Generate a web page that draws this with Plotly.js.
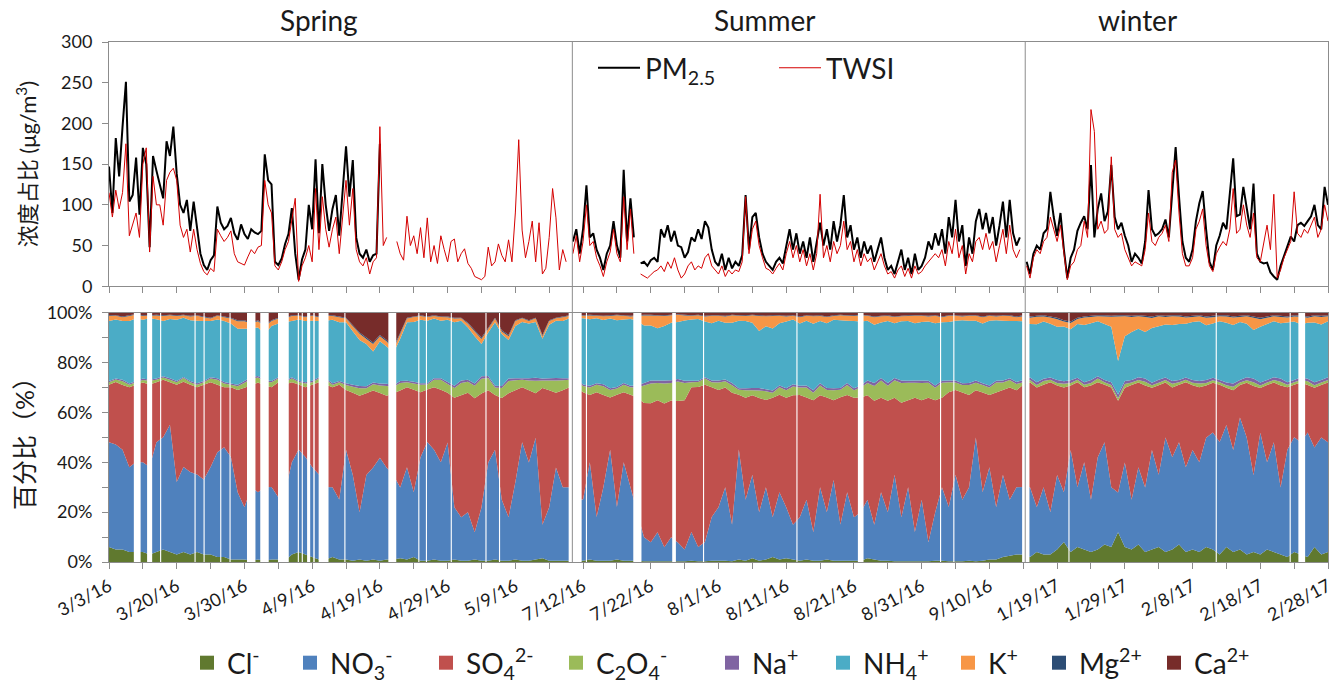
<!DOCTYPE html>
<html>
<head>
<meta charset="utf-8">
<script src="https://cdn.plot.ly/plotly-3.0.1.min.js"></script>
<style>
  html, body { margin: 0; padding: 0; background: #ffffff; }
  #chart { width: 1329px; height: 688px; }
</style>
</head>
<body>
<div id="chart"></div>
<script>
// ---------------- data ----------------
// Hour index along the (gap-compressed) sampling axis; a date label every 240 h.
const tickLabels = ['3/3/16', '3/20/16', '3/30/16', '4/9/16', '4/19/16', '4/29/16', '5/9/16',
  '7/12/16', '7/22/16', '8/1/16', '8/11/16', '8/21/16', '8/31/16', '9/10/16',
  '1/19/17', '1/29/17', '2/8/17', '2/18/17', '2/28/17'];
const seasonNames = ['Spring', 'Summer', 'winter'];

// PM2.5 and total water-soluble ions (µg/m3), one value every 12 h
const hourStep = 12;
const springStart = 0, summerStart = 1644, winterStart = 3252;

const pmSpring = [147, 90, 182, 135, 196, 251, 104, 112, 158, 88,
  170, 150, 48, 160, 142, 125, 108, 178, 160, 196,
  138, 100, 90, 106, 68, 104, 72, 40, 26, 20,
  32, 38, 98, 78, 70, 74, 84, 65, 57, 76,
  64, 58, 70, 66, 64, 68, 162, 130, 125, 30,
  26, 34, 52, 64, 96, 40, 8, 33, 45, 100,
  70, 156, 65, 150, 100, 68, 95, 112, 62, 120,
  172, 110, 155, 60, 40, 35, 45, 30, 38, 40,
  175];
const twsiSpring = [115, 85, 118, 95, 115, 175, 62, 75, 90, 60,
  150, 170, 42, 135, 100, 100, 75, 130, 140, 145,
  130, 75, 60, 70, 42, 70, 45, 28, 18, 14,
  22, 18, 70, 62, 55, 60, 68, 40, 30, 28,
  26, 36, 45, 40, 48, 50, 130, 100, 90, 25,
  20, 30, 45, 55, 80, 108, 6, 25, 35, 50,
  30, 120, 45, 110, 70, 48, 70, 85, 40, 85,
  130, 75, 120, 45, 30, 25, 35, 15, 30, 35,
  196, 50, 60, null, null, 55, 40, 32, 86, 50,
  62, 40, 72, 35, 84, 30, 50, 28, 62, 45,
  30, 55, 58, 30, 40, 46, 28, 22, 12, 10,
  8, 12, 48, 25, 30, 52, 38, 30, 57, 30,
  90, 180, 69, 35, 55, 80, 30, 78, 15, 22,
  60, 120, 84, 20, 45, 30];
const pmSummer = [55, 70, 40, 70, 124, 60, 65, 45, 35, 20,
  40, 50, 80, 50, 35, 143, 55, 108, 60, null,
  28, 30, 25, 32, 35, 30, 70, 60, 75, 55,
  68, 50, 48, 35, 42, 60, 55, 70, 58, 80,
  72, 45, 30, 25, 40, 20, 35, 22, 30, 25,
  38, 112, 45, 85, 90, 60, 40, 30, 25, 20,
  30, 35, 28, 50, 70, 45, 65, 40, 55, 35,
  60, 30, 55, 78, 50, 70, 45, 80, 55, 75,
  112, 60, 75, 45, 60, 35, 55, 40, 50, 30,
  45, 60, 35, 20, 25, 15, 30, 45, 20, 35,
  15, 40, 20, 25, 35, 55, 45, 65, 50, 70,
  40, 85, 60, 106, 55, 75, 25, 60, 40, 80,
  95, 70, 90, 65, 85, 50, 75, 104, 60, 106,
  65, 50, 60];
const twsiSummer = [40, 62, 30, 55, 100, 50, 55, 35, 25, 12,
  30, 42, 70, 40, 30, 110, 45, 95, 40, null,
  15, 12, 10, 14, 18, 20, 25, 18, 30, 22,
  35, 20, 10, 15, 25, 30, 20, 25, 22, 35,
  40, 25, 20, 15, 25, 12, 20, 15, 20, 18,
  30, 110, 40, 70, 80, 50, 35, 22, 20, 15,
  22, 28, 20, 40, 55, 35, 50, 30, 45, 25,
  40, 20, 40, 113, 35, 50, 30, 55, 40, 50,
  80, 45, 55, 30, 45, 25, 40, 30, 35, 20,
  30, 40, 25, 15, 18, 10, 20, 25, 12, 22,
  10, 25, 15, 18, 25, 30, 35, 40, 35, 45,
  25, 55, 40, 70, 35, 50, 15, 40, 30, 55,
  60, 45, 65, 45, 55, 30, 50, 70, 40, 75,
  45, 35, 45];
const pmWinter = [30, 15, 40, 50, 45, 65, 70, 116, 85, 62,
  90, 45, 10, 35, 45, 68, 78, 86, 70, 149,
  60, 95, 114, 80, 92, 149, 85, 70, 78, 62,
  50, 30, 40, 35, 28, 55, 118, 70, 62, 65,
  70, 82, 60, 120, 171, 110, 55, 35, 30, 45,
  80, 102, 117, 70, 30, 20, 50, 62, 78, 70,
  110, 157, 86, 88, 122, 95, 70, 126, 40, 30,
  28, 29, 17, 12, 8, 25, 37, 49, 61, 55,
  75, 78, 74, 80, 86, 100, 75, 70, 122, 100];
const twsiWinter = [25, 10, 35, 45, 40, 55, 60, 85, 70, 55,
  75, 40, 8, 25, 30, 45, 50, 80, 60, 217,
  190, 70, 80, 65, 70, 159, 70, 60, 65, 45,
  35, 25, 30, 28, 25, 45, 90, 55, 50, 60,
  65, 75, 55, 140, 155, 90, 40, 25, 25, 35,
  70, 80, 95, 50, 25, 18, 40, 48, 55, 50,
  70, 120, 65, 70, 100, 75, 60, 90, 35, 30,
  55, 75, 45, 113, 10, 20, 35, 45, 55, 116,
  65, 60, 70, 65, 75, 85, 60, 70, 100, 80];

// Ion shares (%), one value every 24 h
const compStep = 24;
const cl = [6, 5, 5, 4, 4, 4, 3, 4, 5, 4,
  3, 4, 3, 4, 3, 3, 2, 2, 1, 1,
  1, 0.5, 1, 0.5, 1, 1, 0.5, 3, 4, 3,
  2, 1, 1, 2, 1, 1, 0.5, 1, 0.5, 1,
  0.5, 1, 1, 1.5, 1, 2, 0.5, 0.5, 1, 0.5,
  0.5, 1, 0.5, 0.5, 1, 0.5, 0.5, 1, 0.5, 0.5,
  1, 0.5, 0.5, 1, 1.5, 0.5, 0.5, 0.5, 0.5, 0.5,
  0.5, 1, 0.5, 0.5, 0.5, 1, 0.5, 0.5, 0.5, 0.3,
  0.3, 0.3, 0.3, 0.3, 0.3, 0.3, 0.5, 0.3, 0.3, 0.5,
  0.5, 0.5, 0.3, 1, 0.5, 1.5, 0.5, 1, 2, 1,
  1.5, 1, 0.5, 1, 0.5, 0.5, 1, 0.5, 0.5, 0.5,
  0.5, 0.5, 1.5, 1, 0.5, 0.5, 0.3, 0.3, 0.3, 0.3,
  0.3, 0.3, 0.5, 0.5, 0.3, 0.3, 0.3, 0.5, 0.3, 0.5,
  1, 1, 2, 2.5, 3, 3, 2, 4, 3, 3,
  5, 8, 4, 6, 5, 4, 5, 7, 6, 12,
  6, 5, 7, 4, 5, 6, 4, 5, 7, 4,
  5, 4, 6, 5, 3, 6, 4, 5, 3, 4,
  3, 5, 4, 3, 2, 4, 3, 2, 6, 3, 4];
const no3 = [42, 42, 40, 34, 36, 36, 35, 44, 45, 51,
  29, 34, 33, 31, 30, 35, 42, 44, 41, 27,
  21, 29.5, 27, 29.5, 29, 25, 27.5, 37, 41, 39,
  36, 34, 29, 28, 24, 44, 34.5, 19, 34.5, 37,
  41.5, 37, 34, 28.5, 37, 26, 41.5, 47.5, 44, 39.5,
  47.5, 21, 17.5, 19.5, 11, 21.5, 39.5, 44, 24.5, 17.5,
  31, 47.5, 39.5, 49, 13.5, 21.5, 37.5, 29.5, 29.5, 24.5,
  24.5, 39, 17.5, 29.5, 44.5, 21, 39.5, 29.5, 19.5, 9.7,
  7.7, 11.7, 5.7, 9.7, 7.7, 4.7, 11.5, 5.7, 7.7, 17.5,
  21.5, 29.5, 14.7, 44, 24.5, 33.5, 19.5, 29, 16, 27,
  20.5, 14, 17.5, 24, 11.5, 29.5, 19, 32.5, 14.5, 27.5,
  17.5, 19.5, 23.5, 14, 27.5, 19.5, 34.7, 17.7, 29.7, 11.7,
  24.7, 7.7, 19.5, 29.5, 21.7, 34.7, 24.7, 29.5, 49.7, 27.5,
  37, 21, 33, 22.5, 27, 27, 28, 18, 27, 17,
  30, 20, 41, 24, 35, 21, 37, 41, 24, 16,
  34, 20, 31, 26, 40, 29, 46, 37, 41, 34,
  40, 36, 44, 47, 45, 49, 41, 53, 47, 31,
  49, 35, 44, 27, 43, 46, 45, 50, 40, 47, 44];
const so4 = [23, 25, 26, 32, 31, 32, 33, 24, 23, 17,
  39, 34, 35, 35, 38, 34, 27, 24, 28, 41,
  48, 41, 44, 41, 40, 46, 43, 32, 26, 28,
  33, 37, 41, 40, 46, 24, 33, 47, 33, 31,
  26, 29, 33, 39, 32, 41, 26, 21, 25, 29,
  20, 44, 49, 48, 54, 46, 29, 22, 41, 50,
  37, 22, 29, 18, 55, 47, 30, 39, 40, 45,
  43, 27, 50, 37, 21, 45, 28, 37, 46, 54,
  56, 53, 58, 55, 58, 60, 58, 64, 63, 52,
  47, 40, 53, 22, 41, 32, 46, 35, 48, 39,
  44, 52, 49, 41, 53, 37, 46, 32, 51, 39,
  48, 46, 42, 50, 38, 45, 31, 46, 35, 54,
  40, 58, 45, 36, 46, 34, 43, 37, 19, 40,
  29, 46, 34, 45, 39, 41, 42, 48, 41, 52,
  36, 42, 26, 42, 30, 46, 30, 23, 40, 37,
  30, 46, 34, 41, 25, 36, 22, 28, 23, 34,
  26, 30, 21, 20, 23, 15, 24, 13, 22, 36,
  18, 31, 24, 41, 25, 21, 24, 19, 24, 21, 24];
const c2o4 = [1, 1, 1.5, 1, 1, 1, 1.5, 1, 1, 1,
  1, 1.5, 1, 1, 1, 1.5, 2, 1.5, 1, 1.5,
  2, 2.5, 2, 1.5, 2, 1.5, 1, 1.5, 1, 1.5,
  1, 1.5, 2, 1, 1, 2, 2.5, 3, 2, 2.5,
  3, 4, 2.5, 3, 2, 2.5, 3, 2, 3, 4,
  3.5, 4, 5, 4.5, 5, 6, 5, 3, 4, 5,
  4, 3, 4, 5, 3, 4, 5, 4, 3, 3,
  2.5, 3, 3, 3.5, 3, 2.5, 3, 3, 4, 7,
  8, 7, 8, 7, 8, 7, 2, 2, 2.5, 2,
  3, 2.5, 3, 2, 3, 2, 3, 3.5, 2, 3,
  3, 3.5, 3, 4, 3, 4, 3, 4, 3, 4,
  3, 4, 5, 6, 7, 6, 7, 8, 7, 6,
  7, 6, 5, 6, 4, 3, 3, 4, 3, 3,
  3, 4, 3, 3, 2.5, 1, 1, 1, 1.5, 1,
  1, 1.5, 1, 1, 1, 1, 1.5, 1, 1, 1,
  1.5, 1, 1, 1.5, 1, 1, 1, 1.5, 1, 1,
  1, 1.5, 1, 1, 1, 1, 1.5, 1, 1, 1.5,
  1, 1, 1, 1.5, 1, 1, 1, 1.5, 1, 1, 1];
const na = [0.5, 0.4, 0.6, 0.5, 0.5, 0.6, 0.4, 0.5, 0.5, 0.6,
  0.5, 0.4, 0.5, 0.6, 0.5, 0.5, 0.7, 0.6, 0.5, 0.6,
  0.7, 0.8, 0.6, 0.7, 0.5, 0.6, 0.5, 0.6, 0.5, 0.5,
  0.6, 0.5, 0.5, 0.6, 0.5, 0.7, 0.8, 0.9, 0.8, 0.7,
  0.8, 0.9, 0.7, 0.8, 0.6, 0.7, 0.6, 0.5, 0.6, 0.7,
  0.8, 0.9, 1.0, 0.8, 0.9, 1.0, 0.8, 0.7, 0.8, 1.0,
  0.8, 0.7, 0.9, 1.2, 0.8, 0.9, 1.0, 0.8, 0.7, 0.6,
  0.6, 0.7, 0.6, 0.8, 0.7, 0.6, 0.7, 0.6, 0.8, 1.0,
  1.2, 1.0, 1.3, 1.1, 1.0, 0.9, 0.6, 0.5, 0.6, 0.7,
  0.8, 0.7, 0.9, 0.6, 0.8, 0.9, 1.0, 0.8, 0.9, 0.7,
  0.8, 0.9, 0.7, 0.8, 1.0, 0.9, 0.8, 0.9, 0.7, 0.8,
  0.9, 0.8, 1.0, 1.2, 1.0, 1.1, 0.9, 1.0, 0.8, 0.9,
  1.0, 0.8, 0.9, 0.8, 0.7, 0.8, 0.7, 0.8, 0.9, 0.7,
  0.8, 0.7, 0.8, 0.7, 0.8, 0.9, 1.0, 1.1, 0.9, 1.0,
  1.2, 1.0, 1.1, 0.9, 1.0, 1.2, 1.0, 0.9, 1.1, 1.5,
  1.2, 1.0, 1.1, 1.3, 1.0, 1.2, 1.0, 1.1, 0.9, 1.0,
  1.1, 1.0, 1.2, 1.0, 0.9, 1.1, 1.3, 1.0, 1.2, 1.5,
  1.2, 1.0, 1.1, 1.3, 1.0, 0.9, 1.1, 1.0, 1.2, 1.0, 1.1];
const nh4 = [24.1, 23.6, 23.6, 25.1, 25.1, 23.6, 24.6, 23.8, 22.1, 23.8,
  24.5, 23.7, 24.3, 25, 24, 22.5, 23.5, 24.5, 24, 22.5,
  21, 19.5, 19.5, 18.5, 22, 21.5, 23.5, 22.5, 24.5, 24.5,
  24, 22.5, 23, 25.5, 23.5, 24.5, 21.5, 18.5, 17, 12.5,
  17, 15, 13, 17, 23.5, 24, 25.5, 25, 24, 23,
  25, 25.5, 24, 21, 19, 13, 17.5, 25.5, 21, 15.5,
  21, 22.5, 22, 22.5, 16, 21.5, 23, 23, 24, 24,
  26.5, 26.7, 26, 25.8, 28, 26.7, 25.5, 26.8, 26, 23.2,
  22.2, 21, 22, 23.2, 23.4, 24.2, 24.5, 24.7, 22.3, 23,
  24, 22.8, 24.2, 27, 27, 26.2, 23, 25.3, 25, 25,
  26.8, 26, 25, 26, 26.8, 25, 26, 27.5, 27.2, 25,
  27, 25.7, 24, 23.5, 22.3, 25, 22, 23.8, 24, 23,
  23.5, 23.8, 25, 23.5, 23.5, 24, 25.3, 25, 24, 24,
  26, 24.3, 24, 23, 24.5, 23.5, 21.5, 23.3, 23, 21.5,
  21.5, 22, 20.5, 21.5, 23, 22.8, 22, 22.5, 22.3, 13.5,
  18, 19.3, 19.5, 18.8, 22, 21.5, 21.3, 22.5, 22.5, 21.5,
  23.3, 24, 22, 21.8, 23.5, 24, 23.5, 23.3, 21.5, 19.5,
  22.5, 22.5, 22.5, 22.3, 24, 23.5, 21.3, 22.5, 24, 22.3, 22.5];
const kPlus = [2, 1.5, 1.5, 2, 1.5, 1.5, 1, 1.5, 2, 1.5,
  1.5, 1, 1.5, 2, 1.5, 1, 1.5, 1.5, 2, 3,
  3, 2, 2.5, 3, 2, 2, 1.5, 2, 1.5, 1.5,
  2, 1.5, 2, 1.5, 2, 1.5, 2, 2.5, 2, 3,
  2, 2, 1.5, 2, 1.5, 2, 1.5, 1.5, 1, 1.5,
  1, 1.5, 1, 1.5, 2, 2, 1.5, 1.5, 1, 1.5,
  2, 1.5, 1, 1.5, 1, 1.5, 1, 1.5, 1, 1,
  1, 1.5, 1, 1.5, 1, 2, 1.5, 1, 2, 4,
  4, 5, 4, 3, 3, 2, 1.5, 1.5, 2, 3,
  2, 2.5, 3, 2, 2, 3, 6, 4, 5, 3,
  2, 1.5, 2.5, 2, 3, 2, 2.5, 1.5, 2, 2,
  2, 2.5, 2, 3, 2.5, 2, 2.5, 2, 2, 3,
  2.5, 2, 3, 2, 2.5, 2, 1.5, 2, 2, 2.5,
  2, 1.5, 2, 2, 1.5, 2, 2.5, 3, 2, 2.5,
  3, 2, 2.5, 2, 3, 2.5, 2, 3, 4, 18,
  8, 6, 5, 6, 4, 4, 3, 3.5, 3, 2.5,
  2, 2, 3, 2.5, 2, 2.5, 3, 2, 3, 5,
  3, 2.5, 2, 2.5, 2, 2, 3, 2, 2.5, 3, 2];
const mg = [0.3, 0.2, 0.3, 0.3, 0.2, 0.3, 0.2, 0.3, 0.3, 0.2,
  0.3, 0.2, 0.3, 0.2, 0.3, 0.3, 0.2, 0.3, 0.3, 0.4,
  0.4, 0.3, 0.4, 0.5, 0.3, 0.3, 0.2, 0.3, 0.2, 0.3,
  0.2, 0.3, 0.2, 0.3, 0.3, 0.3, 0.4, 0.5, 0.6, 0.6,
  0.5, 0.6, 0.7, 0.5, 0.3, 0.2, 0.3, 0.2, 0.3, 0.2,
  0.3, 0.3, 0.2, 0.4, 0.5, 0.6, 0.4, 0.3, 0.5, 0.5,
  0.3, 0.2, 0.3, 0.2, 0.5, 0.3, 0.2, 0.3, 0.2, 0.2,
  0.2, 0.3, 0.2, 0.2, 0.3, 0.2, 0.2, 0.3, 0.2, 0.3,
  0.3, 0.2, 0.3, 0.2, 0.2, 0.3, 0.2, 0.2, 0.3, 0.2,
  0.2, 0.3, 0.2, 0.2, 0.3, 0.2, 0.3, 0.2, 0.3, 0.2,
  0.3, 0.2, 0.3, 0.2, 0.2, 0.3, 0.2, 0.3, 0.2, 0.2,
  0.3, 0.2, 0.2, 0.3, 0.2, 0.3, 0.2, 0.2, 0.3, 0.2,
  0.2, 0.3, 0.2, 0.3, 0.2, 0.2, 0.3, 0.2, 0.2, 0.3,
  0.2, 0.3, 0.2, 0.3, 0.3, 0.4, 0.5, 0.4, 0.5, 0.4,
  0.6, 0.5, 0.6, 0.5, 0.4, 0.5, 0.4, 0.5, 0.4, 0.5,
  0.4, 0.5, 0.4, 0.5, 0.6, 0.4, 0.5, 0.4, 0.5, 0.4,
  0.5, 0.4, 0.5, 0.6, 0.4, 0.5, 0.4, 0.5, 0.4, 0.5,
  0.6, 0.5, 0.4, 0.5, 0.4, 0.5, 0.4, 0.5, 0.4, 0.5, 0.4];
const ca = [1, 1, 1.5, 1, 0.5, 1, 1, 0.8, 1, 0.8,
  1, 0.8, 1.2, 1, 1.5, 2, 1, 1.5, 2, 3,
  3, 4, 3, 5, 3, 2, 2, 1, 1, 1.5,
  1, 1.5, 1, 1, 1.5, 2, 5, 8, 10, 12,
  9, 11, 14, 8, 2, 1.5, 1, 1.5, 1, 1.5,
  1.5, 2, 2, 4, 7, 10, 6, 2, 7, 9,
  3, 2, 3, 2, 9, 3, 2, 1.5, 1, 1,
  1, 0.8, 1, 1.2, 1, 0.8, 1, 1.2, 1, 0.8,
  0.8, 1, 1, 0.8, 0.6, 0.8, 1, 0.8, 1.2, 1,
  1, 1.2, 0.8, 1, 1, 0.8, 1, 1.2, 1, 1,
  1.2, 1, 1.5, 1, 1.2, 1, 1.5, 1, 0.8, 1,
  1, 0.8, 1, 1.5, 1.2, 1, 1.5, 1.2, 1, 1,
  1, 1.2, 1, 1.5, 1, 1, 1.2, 1, 1, 1.5,
  1, 1.2, 1, 1, 1.5, 1, 1.5, 1.2, 1, 1.5,
  2, 3, 3.5, 2, 1.5, 1.2, 1, 1, 1.2, 1,
  1, 1.2, 1, 1.2, 1.5, 1, 1.2, 1, 1, 1.5,
  1.2, 1, 1.5, 1.2, 1, 1, 1.5, 1.2, 1, 1.5,
  2, 1.5, 1, 1.2, 1.5, 1, 1.2, 1.5, 1, 1.2, 1];

// Hours with no ion measurements (start, end)
const gapStart = [88, 135, 181, 303, 335, 394, 427, 489, 536, 599, 669, 683, 702, 724, 743, 834,
  990, 1096, 1123, 1211, 1334, 1382, 1629, 1690, 1858, 1996, 2105, 2436, 2654, 2945, 2992,
  3236, 3400, 3922, 4184, 4215];
const gapEnd = [112, 153, 185, 307, 339, 398, 431, 519, 566, 637, 673, 687, 713, 729, 778, 838,
  1018, 1100, 1127, 1215, 1338, 1386, 1675, 1694, 1887, 2009, 2109, 2440, 2674, 2949, 2996,
  3262, 3404, 3926, 4188, 4239];

// ---------------- styling ----------------
const FONT = "Lato, 'Noto Sans CJK SC', sans-serif";
const AXIS = '#8c8c8c';
const TEXT = '#1a1a1a';
const ionNames = ['Cl<sup>-</sup>', 'NO<sub>3</sub><sup>-</sup>', 'SO<sub>4</sub><sup>2-</sup>',
  'C<sub>2</sub>O<sub>4</sub><sup>-</sup>', 'Na<sup>+</sup>', 'NH<sub>4</sub><sup>+</sup>',
  'K<sup>+</sup>', 'Mg<sup>2+</sup>', 'Ca<sup>2+</sup>'];
const ionColors = ['#60792f', '#4f81bd', '#c0504d', '#9bbb59', '#8064a2', '#4bacc6',
  '#f79646', '#2c4d75', '#772c2a'];
const ionLegendPx = [207, 310, 446, 576, 732, 843, 968, 1059, 1174]; // symbol centres
const seasonLabelX = [743, 2325, 3644];
const seasonBreaks = [1642, 3247];
const axisEnd = 4320;

// ---------------- build ----------------
function joinSegments(parts) {
  const x = [], y = [];
  parts.forEach(([start, vals], p) => {
    if (p > 0) { x.push(start - hourStep / 2); y.push(null); }
    vals.forEach((v, j) => { x.push(start + j * hourStep); y.push(v); });
  });
  return { x, y };
}
const pmLine = joinSegments([[springStart, pmSpring], [summerStart, pmSummer], [winterStart, pmWinter]]);
const twsiLine = joinSegments([[springStart, twsiSpring], [summerStart, twsiSummer], [winterStart, twsiWinter]]);

const traces = [];
traces.push({ type: 'scatter', mode: 'lines', name: 'PM<sub>2.5</sub>', x: pmLine.x, y: pmLine.y,
  line: { color: '#000000', width: 2 }, xaxis: 'x', yaxis: 'y', legend: 'legend', hoverinfo: 'skip' });
traces.push({ type: 'scatter', mode: 'lines', name: 'TWSI', x: twsiLine.x, y: twsiLine.y,
  line: { color: '#d40000', width: 1 }, xaxis: 'x', yaxis: 'y', legend: 'legend', hoverinfo: 'skip' });

const compX = cl.map((_, k) => k * compStep);
[cl, no3, so4, c2o4, na, nh4, kPlus, mg, ca].forEach((vals, j) => {
  const t = { type: 'scatter', mode: 'none', x: compX, y: vals, xaxis: 'x2', yaxis: 'y2',
    stackgroup: 'ions', fillcolor: ionColors[j], showlegend: false, hoverinfo: 'skip' };
  if (j === 0) t.groupnorm = 'percent';
  traces.push(t);
});

// blank out hours without measurements
const gx = [], gy = [];
gapStart.forEach((a, i) => { const b = gapEnd[i]; gx.push(a, a, b, b, null); gy.push(0, 100, 100, 0, null); });
traces.push({ type: 'scatter', mode: 'none', x: gx, y: gy, fill: 'toself', fillcolor: '#ffffff',
  xaxis: 'x2', yaxis: 'y2', showlegend: false, hoverinfo: 'skip' });

// legend keys for the ions, one small legend each
const legends = {};
ionNames.forEach((nm, j) => {
  const id = 'legend' + (j + 2);
  traces.push({ type: 'scatter', mode: 'markers', name: nm, x: [null], y: [null], xaxis: 'x2', yaxis: 'y2',
    marker: { symbol: 'square', size: 14, color: ionColors[j] }, legend: id, hoverinfo: 'skip' });
  legends[id] = { x: (ionLegendPx[j] - 20 - 109) / 1219, xanchor: 'left', y: -0.192, yanchor: 'middle',
    orientation: 'h', bgcolor: 'rgba(0,0,0,0)', font: { family: FONT, size: 28, color: TEXT } };
});

const tickvals = tickLabels.map((_, n) => n * 240);

const xBase = { range: [0, axisEnd], tickmode: 'array', tickvals: tickvals, ticks: 'outside', ticklen: 6,
  tickcolor: AXIS, showline: true, linecolor: AXIS, linewidth: 1, mirror: true, showgrid: false,
  zeroline: false, fixedrange: true,
  minor: { tickmode: 'linear', tick0: 0, dtick: 120, ticks: 'outside', ticklen: 6, tickcolor: AXIS, showgrid: false } };

const layout = Object.assign({
  width: 1329, height: 688,
  margin: { l: 109, r: 1, t: 42, b: 125 },
  paper_bgcolor: '#ffffff', plot_bgcolor: '#ffffff',
  font: { family: FONT, color: TEXT, size: 18 },
  xaxis: Object.assign({}, xBase, { anchor: 'y', showticklabels: false }),
  xaxis2: Object.assign({}, xBase, { anchor: 'y2', ticktext: tickLabels, tickangle: -28,
    ticklabeloverflow: 'allow', tickfont: { family: FONT, size: 18, color: TEXT } }),
  yaxis: { domain: [0.5303, 1], range: [0, 300], tickmode: 'array', tickvals: [0, 50, 100, 150, 200, 250, 300],
    ticks: 'outside', ticklen: 6, tickcolor: AXIS, showline: true, linecolor: AXIS, mirror: true,
    showgrid: false, zeroline: false, ticklabelstandoff: 6, tickfont: { size: 18 },
    title: { text: '浓度占比 (μg/m<sup>3</sup>)', font: { size: 22 }, standoff: 18 } },
  yaxis2: { domain: [0, 0.4793], range: [0, 100], tickmode: 'array',
    tickvals: [0, 20, 40, 60, 80, 100], ticktext: ['0%', '20%', '40%', '60%', '80%', '100%'],
    minor: { tickmode: 'linear', tick0: 0, dtick: 10, ticks: 'outside', ticklen: 6, tickcolor: AXIS, showgrid: false },
    ticks: 'outside', ticklen: 6, tickcolor: AXIS, showline: true, linecolor: AXIS, mirror: true,
    showgrid: false, zeroline: false, ticklabelstandoff: 6, tickfont: { size: 18 },
    title: { text: '百分比（%）', font: { size: 25 }, standoff: 4 } },
  legend: { x: (593 - 109) / 1219, xanchor: 'left', y: 0.95, yanchor: 'middle', orientation: 'h',
    traceorder: 'normal', entrywidth: 124, entrywidthmode: 'pixels', itemwidth: 42, bgcolor: 'rgba(0,0,0,0)',
    font: { family: FONT, size: 28, color: TEXT } },
  shapes: seasonBreaks.map(h => ({ type: 'line', xref: 'x', yref: 'paper', x0: h, x1: h, y0: 0, y1: 1,
    line: { color: AXIS, width: 1 }, layer: 'above' })),
  annotations: seasonNames.map((s, i) => ({ text: s, xref: 'x', yref: 'paper', x: seasonLabelX[i],
    y: 1.0422, xanchor: 'center', yanchor: 'middle', showarrow: false,
    font: { family: FONT, size: 28, color: TEXT } })),
  showlegend: true
}, legends);

Plotly.newPlot('chart', traces, layout, { displayModeBar: false, staticPlot: true });
</script>
</body>
</html>
